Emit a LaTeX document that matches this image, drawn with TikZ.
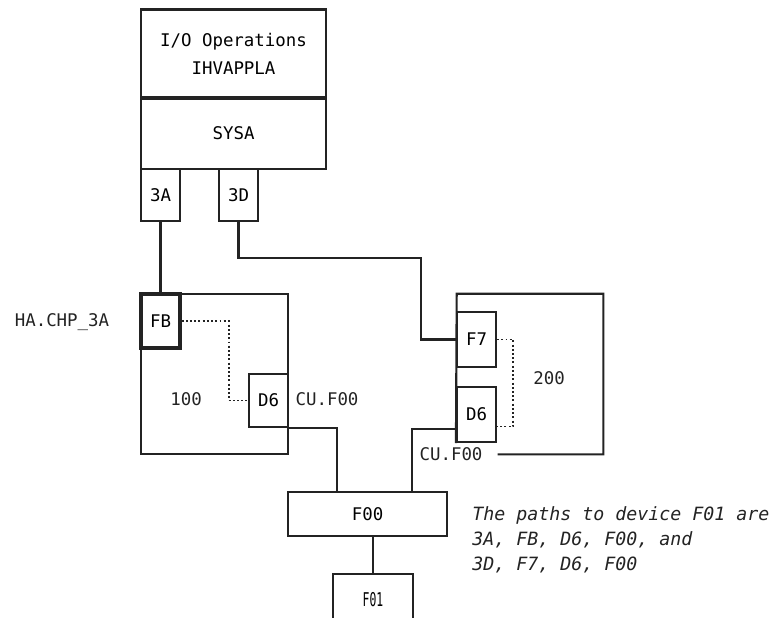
\documentclass[tikz,border=0pt]{standalone}
\usepackage{fontspec}
\usepackage{tikz}
\usetikzlibrary{calc}
\newfontfamily\mono{DejaVu Sans Mono}
\newfontfamily\monoangosta[FakeStretch=0.6]{DejaVu Sans Mono}
\definecolor{Trazo}{RGB}{35,35,35}

\begin{document}
\begin{tikzpicture}[
      x=0.025cm, y=-0.025cm,
      caja/.style ={draw=Trazo,line width=1.5pt,inner sep=0pt,
                    font=\mono\fontsize{12.4}{20}\selectfont,align=center},
      puerto/.style={caja,minimum width=0.975cm,minimum height=1.35cm},
      rotulo/.style={text=Trazo,inner sep=0pt,font=\mono\fontsize{12.4}{17}\selectfont},
      linea/.style ={Trazo,line width=1.5pt},
      punteo/.style={Trazo,line width=1.4pt,dash pattern=on 1.4pt off 1.6pt}]
      \clip (0,0) rectangle (780,617);
      % host and its channels
      \node[caja,minimum width=4.625cm,minimum height=2.225cm] (ops) at (233.5,54)
            {I/O Operations\\IHVAPPLA};
      \node[caja,minimum width=4.625cm,minimum height=1.8cm]   (sysa) at (233.5,133){SYSA};
      \node[puerto,minimum height=1.3cm] (p3A) at (160.5,195){3A};
      \node[puerto,minimum height=1.3cm] (p3D) at (238.5,195){3D};
      % switch 100
      \node[caja,minimum width=3.675cm,minimum height=4cm] (sw100) at (214.5,374){};
      \node[puerto,line width=2.2pt]     (fb)  at (160.5,321){FB};
      \node[puerto,minimum height=1.325cm] (d6a) at (268.5,400.5){D6};
      \node[rotulo] (n100) at (186,399){100};
      \node[rotulo] (cua)  at (327,399){CU.F00};
      \node[rotulo] (ha)   at (62,322){HA.CHP\_3A};
      % switch 200
      \node[minimum width=3.65cm,minimum height=4cm,inner sep=0pt] (sw200) at (530,374){};
      \node[puerto,minimum height=1.375cm] (f7)  at (476.5,339.5){F7};
      \node[puerto,minimum height=1.375cm] (d6b) at (476.5,414.5){D6};
      \draw[linea] ($(sw200.south west)+(41,0)$) -- (sw200.south east)
        -- (sw200.north east) -- (sw200.north west) -- (d6b.south west);
      \node[rotulo] (n200) at (549,378){200};
      \node[rotulo] (cub)  at (451,454){CU.F00};
      % control unit and device
      \node[caja,minimum width=3.975cm,minimum height=1.1cm] (f00) at (367.5,514){F00};
      \node[caja,minimum width=2cm,minimum height=1.3cm,font=\monoangosta\fontsize{13.5}{17}\selectfont]
            (f01) at (373,600){F01};
      \node[rotulo,anchor=west,align=left,font=\mono\itshape\fontsize{13}{17.8}\selectfont]
            (nota) at (472,540){The paths to device F01 are\\3A, FB, D6, F00, and\\3D, F7, D6, F00};
      % connectors
      \coordinate (c3d)  at (421,258);
      \coordinate (ina)  at (337,492);
      \coordinate (inb)  at (412,492);
      \coordinate (outb) at ($(d6b.south west)+(0,-14)$);
      \draw[linea] (p3A) -- (fb);
      \draw[linea] (p3D.south) |- (c3d) |- (f7.west);
      \draw[linea] (d6a.south east) -| (ina);
      \draw[linea] (outb) -| (inb);
      \draw[linea] (f01.north) -- (f01.north |- f00.south);
      \draw[punteo] (fb.east) -- ++(47,0) |- (d6a.west);
      \draw[punteo] (f7.east) -- ++(16,0) |- ($(d6b.east)+(0,12)$);
\end{tikzpicture}
\end{document}
